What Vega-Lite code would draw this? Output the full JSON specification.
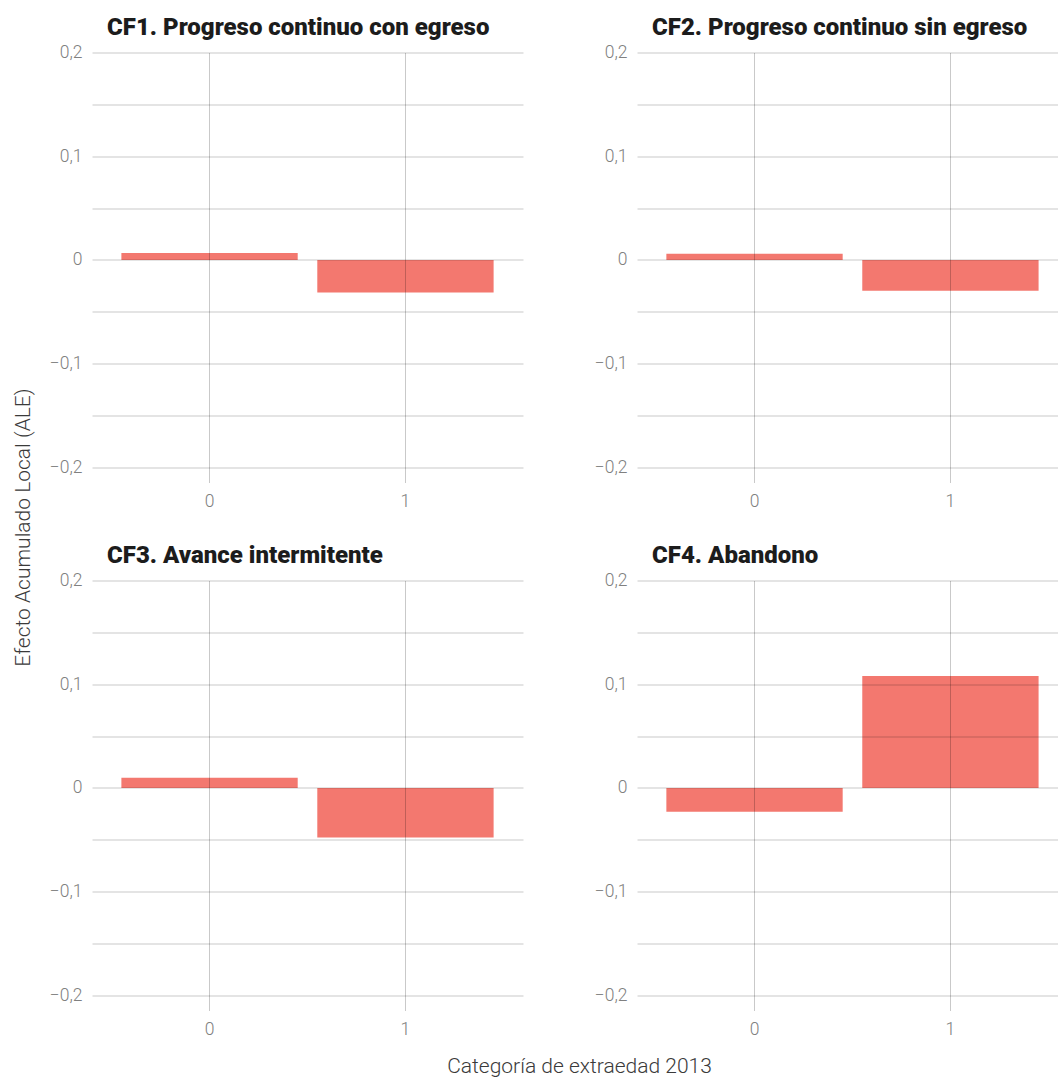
{
  "$schema": "https://vega.github.io/schema/vega-lite/v6.json",
  "background": "white",
  "padding": {"left": 12, "top": 15.5, "right": 0, "bottom": 0},
  "data": {
    "values": [
      {"panel": "CF1. Progreso continuo con egreso", "cat": "0", "ale": 0.0067},
      {"panel": "CF1. Progreso continuo con egreso", "cat": "1", "ale": -0.0314},
      {"panel": "CF2. Progreso continuo sin egreso", "cat": "0", "ale": 0.0061},
      {"panel": "CF2. Progreso continuo sin egreso", "cat": "1", "ale": -0.0296},
      {"panel": "CF3. Avance intermitente", "cat": "0", "ale": 0.0099},
      {"panel": "CF3. Avance intermitente", "cat": "1", "ale": -0.0478},
      {"panel": "CF4. Abandono", "cat": "0", "ale": -0.0228},
      {"panel": "CF4. Abandono", "cat": "1", "ale": 0.108}
    ]
  },
  "columns": 2,
  "bounds": "flush",
  "spacing": {"row": 98, "column": 114},
  "concat": [
    {
      "width": 431,
      "height": 430,
      "title": {"text": "CF1. Progreso continuo con egreso"},
      "transform": [{"filter": "datum.panel == 'CF1. Progreso continuo con egreso'"}],
      "mark": {"type": "bar", "color": "#F3786F"},
      "encoding": {
        "x": {"field": "cat", "type": "ordinal", "scale": {"paddingInner": 0.1, "paddingOuter": 0.15, "align": 0.5}, "axis": {"title": null, "zindex": 1}},
        "y": {"field": "ale", "type": "quantitative", "scale": {"domain": [-0.2145, 0.2], "nice": false, "zero": false},
              "axis": {"zindex": 1, "title": "Efecto Acumulado Local (ALE)", "titleX": -63, "titleY": 474.5, "titleAngle": 270, "titleAlign": "center", "titleBaseline": "alphabetic"}}
      }
    },
    {
      "width": 421,
      "height": 430,
      "title": {"text": "CF2. Progreso continuo sin egreso"},
      "transform": [{"filter": "datum.panel == 'CF2. Progreso continuo sin egreso'"}],
      "mark": {"type": "bar", "color": "#F3786F"},
      "encoding": {
        "x": {"field": "cat", "type": "ordinal", "scale": {"paddingInner": 0.1, "paddingOuter": 0.1245, "align": 0.602}, "axis": {"title": null, "zindex": 1}},
        "y": {"field": "ale", "type": "quantitative", "scale": {"domain": [-0.2145, 0.2], "nice": false, "zero": false}, "axis": {"title": null, "zindex": 1}}
      }
    },
    {
      "width": 431,
      "height": 430,
      "title": {"text": "CF3. Avance intermitente"},
      "transform": [{"filter": "datum.panel == 'CF3. Avance intermitente'"}],
      "mark": {"type": "bar", "color": "#F3786F"},
      "encoding": {
        "x": {"field": "cat", "type": "ordinal", "scale": {"paddingInner": 0.1, "paddingOuter": 0.15, "align": 0.5},
              "axis": {"zindex": 1, "title": "Categoría de extraedad 2013", "titleX": 487, "titleY": 62, "titleAlign": "center", "titleBaseline": "alphabetic"}},
        "y": {"field": "ale", "type": "quantitative", "scale": {"domain": [-0.2145, 0.2], "nice": false, "zero": false}, "axis": {"title": null, "zindex": 1}}
      }
    },
    {
      "width": 421,
      "height": 430,
      "title": {"text": "CF4. Abandono"},
      "transform": [{"filter": "datum.panel == 'CF4. Abandono'"}],
      "mark": {"type": "bar", "color": "#F3786F"},
      "encoding": {
        "x": {"field": "cat", "type": "ordinal", "scale": {"paddingInner": 0.1, "paddingOuter": 0.1245, "align": 0.602}, "axis": {"title": null, "zindex": 1}},
        "y": {"field": "ale", "type": "quantitative", "scale": {"domain": [-0.2145, 0.2], "nice": false, "zero": false}, "axis": {"title": null, "zindex": 1}}
      }
    }
  ],
  "config": {
    "view": {"stroke": null},
    "title": {"anchor": "start", "frame": "group", "dx": 15, "offset": 3.8, "baseline": "alphabetic", "font": "Roboto", "fontSize": 24, "fontWeight": 900, "color": "#1c1c1c"},
    "axis": {
      "domain": false,
      "ticks": false,
      "grid": true,
      "gridColor": "#000000",
      "gridOpacity": 0.21,
      "gridWidth": 1,
      "zindex": 1,
      "labelFont": "Roboto",
      "labelFontWeight": 300,
      "labelFontSize": 17.5,
      "labelColor": "#808080",
      "titleFont": "Roboto",
      "titleFontWeight": 300,
      "titleFontSize": 21,
      "titleColor": "#3a3a3a"
    },
    "axisX": {"labelAngle": 0, "labelPadding": 9.5, "bandPosition": 0.5},
    "axisY": {
      "labelPadding": 10,
      "labelOverlap": false,
      "values": [-0.2, -0.15, -0.1, -0.05, 0, 0.05, 0.1, 0.15, 0.2],
      "labelExpr": "abs(datum.value * 10 - round(datum.value * 10)) > 0.01 ? '' : datum.value == 0 ? '0' : (datum.value < 0 ? '\u2212' : '') + replace(format(abs(datum.value), '.1f'), '.', ',')"
    }
  }
}
